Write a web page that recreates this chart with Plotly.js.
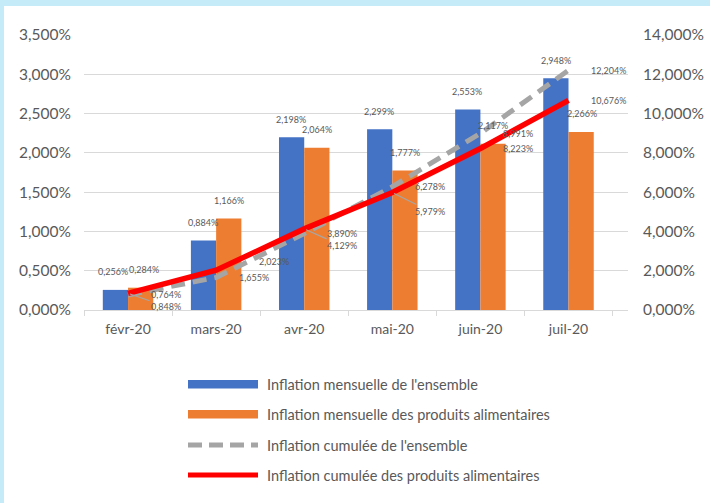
<!DOCTYPE html>
<html>
<head>
<meta charset="utf-8">
<script src="https://cdn.plot.ly/plotly-3.0.1.min.js"></script>
<style>html,body{margin:0;padding:0;background:#fff;}#chart{width:710px;height:503px;}</style>
</head>
<body>
<div id="chart"></div>
<script>
// ---- data ----
const months = ['févr-20', 'mars-20', 'avr-20', 'mai-20', 'juin-20', 'juil-20'];
const mensuelEnsemble = [0.256, 0.884, 2.198, 2.299, 2.553, 2.948];
const mensuelAlim = [0.284, 1.166, 2.064, 1.777, 2.117, 2.266];
const cumulEnsemble = [0.764, 1.655, 3.890, 6.278, 8.991, 12.204];
const cumulAlim = [0.848, 2.023, 4.129, 5.979, 8.223, 10.676];
const seriesNames = [
  "Inflation mensuelle de l'ensemble",
  "Inflation mensuelle des produits alimentaires",
  "Inflation cumulée de l'ensemble",
  "Inflation cumulée des produits alimentaires"
];

// ---- layout helpers ----
const W = 710, H = 503;
const PL = 84, PR = 628, PT = 35, PB = 310;
const px2x = px => (px - PL) / (PR - PL);
const py2y = py => (PB - py) / (PB - PT);
const FONT = 'Lato, "Open Sans", sans-serif';
const TXT = '#595959';
const fmt = v => v.toFixed(3).replace('.', ',') + '%';

const colors = ['#4472C4', '#ED7D31', '#A5A5A5', '#FF0000'];

const traces = [
  {type: 'bar', x: months, y: mensuelEnsemble, name: seriesNames[0], marker: {color: colors[0]}, yaxis: 'y', hoverinfo: 'skip'},
  {type: 'bar', x: months, y: mensuelAlim, name: seriesNames[1], marker: {color: colors[1]}, yaxis: 'y', hoverinfo: 'skip'},
  {type: 'scatter', mode: 'lines', x: months, y: cumulEnsemble, name: seriesNames[2], yaxis: 'y2',
   line: {color: colors[2], width: 5, dash: '14px,8px'}, hoverinfo: 'skip'},
  {type: 'scatter', mode: 'lines', x: months, y: cumulAlim, name: seriesNames[3], yaxis: 'y2',
   line: {color: colors[3], width: 5.5}, hoverinfo: 'skip'}
];

const annotations = [];
const lblFont = {family: FONT, size: 9, color: TXT};
months.forEach((m, i) => {
  annotations.push({x: m, y: mensuelEnsemble[i], xref: 'x', yref: 'y', text: fmt(mensuelEnsemble[i]),
    showarrow: false, xshift: i === 0 ? -15 : -13, yshift: 18, font: lblFont});
  annotations.push({x: m, y: mensuelAlim[i], xref: 'x', yref: 'y', text: fmt(mensuelAlim[i]),
    showarrow: false, xshift: i === 0 ? 16 : 13, yshift: 18, font: lblFont});
});
// cumulative ensemble labels (right of point)
months.forEach((m, i) => {
  annotations.push({x: m, y: cumulEnsemble[i], xref: 'x', yref: 'y2', text: fmt(cumulEnsemble[i]),
    showarrow: false, xshift: i === 5 ? 40 : 38, yshift: 0, font: lblFont});
});
// cumulative food labels
const redPos = [
  {arrow: true, ax: 38, ay: 13},
  {arrow: false, xs: 58, ys: 9},
  {arrow: true, ax: 38, ay: 17},
  {arrow: true, ax: 38, ay: 19},
  {arrow: false, xs: 38, ys: 0},
  {arrow: false, xs: 40, ys: 0}
];
months.forEach((m, i) => {
  const p = redPos[i];
  if (p.arrow) {
    annotations.push({x: m, y: cumulAlim[i], xref: 'x', yref: 'y2', text: fmt(cumulAlim[i]),
      showarrow: true, ax: p.ax, ay: p.ay, arrowhead: 0, arrowwidth: 1.2, arrowcolor: '#A6A6A6',
      standoff: 2, font: lblFont});
  } else {
    annotations.push({x: m, y: cumulAlim[i], xref: 'x', yref: 'y2', text: fmt(cumulAlim[i]),
      showarrow: false, xshift: p.xs, yshift: p.ys, font: lblFont});
  }
});

// custom legend
const legY = [384, 414, 445, 475];
const legFont = {family: FONT, size: 14.5, color: TXT};
seriesNames.forEach((n, i) => {
  annotations.push({xref: 'paper', yref: 'paper', x: px2x(265), y: py2y(legY[i]), xanchor: 'left', yanchor: 'middle',
    text: n, showarrow: false, font: legFont});
});

const shapes = [
  // light-blue frame: white inner area
  {type: 'rect', xref: 'paper', yref: 'paper', x0: px2x(4), x1: px2x(W + 20), y0: py2y(H + 20), y1: py2y(6),
   fillcolor: '#FFFFFF', line: {width: 0}, layer: 'below'},
  {type: 'rect', xref: 'paper', yref: 'paper', x0: px2x(188), x1: px2x(258), y0: py2y(388.5), y1: py2y(380),
   fillcolor: colors[0], line: {width: 0}},
  {type: 'rect', xref: 'paper', yref: 'paper', x0: px2x(188), x1: px2x(258), y0: py2y(418.5), y1: py2y(410),
   fillcolor: colors[1], line: {width: 0}},
  {type: 'line', xref: 'paper', yref: 'paper', x0: px2x(188), x1: px2x(258), y0: py2y(legY[2]), y1: py2y(legY[2]),
   line: {color: colors[2], width: 5, dash: '14px,7px'}},
  {type: 'line', xref: 'paper', yref: 'paper', x0: px2x(188), x1: px2x(258), y0: py2y(legY[3]), y1: py2y(legY[3]),
   line: {color: colors[3], width: 5}}
];

const layout = {
  width: W, height: H,
  margin: {l: PL, r: W - PR, t: PT, b: H - PB, pad: 0},
  paper_bgcolor: '#C5EBF8',
  plot_bgcolor: 'rgba(0,0,0,0)',
  separators: ', ',
  showlegend: false,
  barmode: 'group',
  bargap: 0.427,
  bargroupgap: 0,
  font: {family: FONT, size: 14, color: TXT},
  xaxis: {
    type: 'category', showgrid: false, showline: true, linecolor: '#D9D9D9', linewidth: 1,
    ticks: 'outside', tickson: 'boundaries', ticklen: 5, tickcolor: '#D9D9D9',
    tickfont: {family: FONT, size: 14, color: TXT}, ticklabelstandoff: 6, zeroline: false
  },
  yaxis: {
    range: [0, 3.5], dtick: 0.5, tick0: 0, tickformat: '.3f', ticksuffix: '%',
    showgrid: true, gridcolor: '#D9D9D9', gridwidth: 1, zeroline: false, showline: false,
    tickfont: {family: FONT, size: 15.5, color: TXT}, ticklabelstandoff: 12
  },
  yaxis2: {
    range: [0, 14], dtick: 2, tick0: 0, tickformat: '.3f', ticksuffix: '%',
    overlaying: 'y', side: 'right', showgrid: false, zeroline: false, showline: false,
    tickfont: {family: FONT, size: 15.5, color: TXT}, ticklabelstandoff: 14
  },
  annotations: annotations,
  shapes: shapes
};

Plotly.newPlot('chart', traces, layout, {displayModeBar: false, staticPlot: true});
</script>
</body>
</html>
